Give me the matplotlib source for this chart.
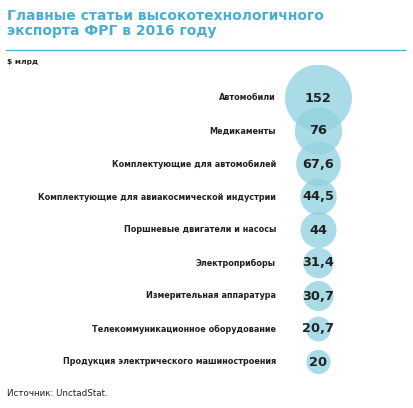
import matplotlib
matplotlib.use("Agg")
import matplotlib.pyplot as plt
import numpy as np

categories = [
    "Автомобили",
    "Медикаменты",
    "Комплектующие для автомобилей",
    "Комплектующие для авиакосмической индустрии",
    "Поршневые двигатели и насосы",
    "Электроприборы",
    "Измерительная аппаратура",
    "Телекоммуникационное оборудование",
    "Продукция электрического машиностроения",
]
values = [152, 76, 67.6, 44.5, 44, 31.4, 30.7, 20.7, 20]
value_labels = ["152", "76", "67,6", "44,5", "44", "31,4", "30,7", "20,7", "20"]

W, H = 414, 408
fig = plt.figure(figsize=(W / 100, H / 100), dpi=100)
fig.patch.set_facecolor("white")

FONT = "DejaVu Sans"
title_color = "#4aaed0"
text_color = "#222222"

# Title
fig.text(7 / W, 1 - 9 / H, "Главные статьи высокотехнологичного\nэкспорта ФРГ в 2016 году",
         ha="left", va="top", fontsize=10.0, fontweight="bold", color=title_color,
         family=FONT, linespacing=1.1)
# rule
fig.add_artist(plt.Line2D([6 / W, 405 / W], [1 - 50 / H, 1 - 50 / H], color=title_color, lw=0.9))
fig.text(7 / W, 1 - 62 / H, "$ млрд", ha="left", va="center", fontsize=5.4,
         fontweight="bold", color=text_color, family=FONT)
fig.text(7 / W, 1 - 394 / H, "Источник: UnctadStat.", ha="left", va="center", fontsize=6.3,
         color=text_color, family=FONT)

# bubble axes
top_px, bot_px = 98, 362
ax = fig.add_axes([0, 1 - 395 / H, 1, (395 - 65) / H])
ax.set_xlim(0, W)
n = len(values)
step = (bot_px - top_px) / (n - 1)
ax.set_ylim(n - 1 + (395 - bot_px) / step, -(top_px - 65) / step)
ax.axis("off")

idx = np.arange(n)
vals = np.array(values)
r_max = 33.5  # px
sizes = (2 * r_max * 0.72) ** 2 * vals / vals.max()
ax.scatter(np.full(n, 318.5), idx, s=sizes, color="#91d3df", alpha=0.78,
           edgecolors="none", zorder=2)

for i, (cat, vl) in enumerate(zip(categories, value_labels)):
    ax.text(276, i, cat, ha="right", va="center", fontsize=5.9, fontweight="bold",
            color=text_color, family=FONT)
    ax.text(318.5, i, vl, ha="center", va="center", fontsize=9.3, fontweight="bold",
            color=text_color, family=FONT, zorder=3)

fig.savefig("out.png", dpi=100, facecolor="white")
